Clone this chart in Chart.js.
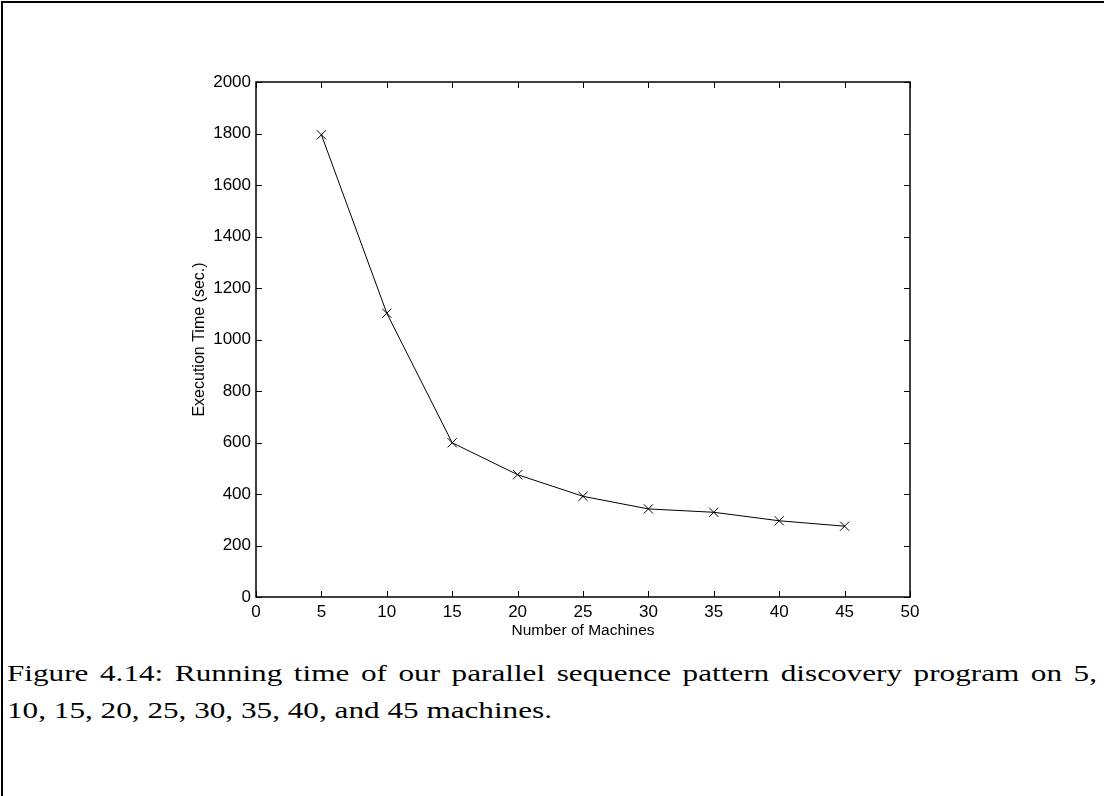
<!DOCTYPE html>
<html>
<head>
<meta charset="utf-8">
<script src="https://cdn.jsdelivr.net/npm/chart.js@4"></script>
<style>
  html, body { margin: 0; padding: 0; background: #fff; width: 1104px; height: 796px; overflow: hidden; }
  #frame { position: absolute; left: 1px; top: 1px; width: 1103px; height: 795px; border-top: 2px solid #000; border-left: 2px solid #000; box-sizing: border-box; }
  #wrap { position: absolute; left: 0; top: 0; width: 1104px; height: 650px; }
  #caption { position: absolute; left: 7px; top: 655px; font-family: "Liberation Serif", "Times New Roman", serif; font-size: 23.5px; color: #000; white-space: nowrap; }
  #caption span { display: block; transform-origin: 0 0; line-height: 37px; width: max-content; }
</style>
</head>
<body>
<div id="frame"></div>
<div id="wrap"><canvas id="c" width="1104" height="650"></canvas></div>
<div id="caption">
  <span id="l1">Figure 4.14: Running time of our parallel sequence pattern discovery program on 5,</span>
  <span id="l2">10, 15, 20, 25, 30, 35, 40, and 45 machines.</span>
</div>
<script>
// ---- data ----
const machines = [5, 10, 15, 20, 25, 30, 35, 40, 45];
const execTimes = [1795, 1102, 599, 475, 391, 342, 329, 296, 275];
const xTickValues = [0, 5, 10, 15, 20, 25, 30, 35, 40, 45, 50];
const yTickValues = [0, 200, 400, 600, 800, 1000, 1200, 1400, 1600, 1800, 2000];
const xTitle = "Number of Machines";
const yTitle = "Execution Time (sec.)";

// caption: horizontal scale from line 2, line 1 justified to full width
(function(){
  const l1 = document.getElementById('l1');
  const l2 = document.getElementById('l2');
  const w2 = l2.getBoundingClientRect().width;
  const s = 545 / w2;
  const w1 = l1.getBoundingClientRect().width;
  const spaces = (l1.textContent.match(/ /g) || []).length;
  const extra = (1090 / s - w1) / spaces;
  l1.style.wordSpacing = extra + 'px';
  l1.style.transform = 'scaleX(' + s + ')';
  l2.style.transform = 'scaleX(' + s + ')';
})();

const boxPlugin = {
  id: 'matlabBox',
  afterDraw(chart) {
    const ctx = chart.ctx;
    const a = chart.chartArea;
    const xs = chart.scales.x, ys = chart.scales.y;
    const tl = 6;
    ctx.save();
    ctx.strokeStyle = '#000';
    ctx.lineWidth = 1;
    ctx.beginPath();
    xTickValues.forEach(v => {
      const px = Math.round(xs.getPixelForValue(v)) + 0.5;
      ctx.moveTo(px, a.bottom); ctx.lineTo(px, a.bottom - tl);
      ctx.moveTo(px, a.top); ctx.lineTo(px, a.top + tl);
    });
    yTickValues.forEach(v => {
      const py = Math.round(ys.getPixelForValue(v)) + 0.5;
      ctx.moveTo(a.left, py); ctx.lineTo(a.left + tl, py);
      ctx.moveTo(a.right, py); ctx.lineTo(a.right - tl, py);
    });
    ctx.stroke();
    ctx.lineWidth = 1.5;
    ctx.strokeRect(a.left, a.top, a.right - a.left, a.bottom - a.top);
    ctx.restore();
  }
};

const sans = 'Liberation Sans, Arial, sans-serif';

new Chart(document.getElementById('c'), {
  type: 'line',
  data: {
    datasets: [{
      data: machines.map((m, i) => ({ x: m, y: execTimes[i] })),
      borderColor: '#000',
      borderWidth: 1,
      pointStyle: 'crossRot',
      pointRadius: 6.5,
      pointBorderColor: '#000',
      pointBorderWidth: 1,
      pointBackgroundColor: '#000',
      tension: 0,
      fill: false
    }]
  },
  options: {
    responsive: false,
    animation: false,
    events: [],
    layout: { padding: { left: 190, right: 194, top: 82, bottom: 10 } },
    plugins: { legend: { display: false }, tooltip: { enabled: false } },
    scales: {
      x: {
        type: 'linear', min: 0, max: 50,
        afterBuildTicks(scale) { scale.ticks = xTickValues.map(v => ({ value: v })); },
        afterFit(scale) { scale.height = 43; },
        grid: { display: false, drawTicks: false },
        border: { display: false },
        ticks: { color: '#000', padding: 5, maxRotation: 0, autoSkip: false, callback: v => String(v), font: { family: sans, size: 17 } },
        title: { display: true, text: xTitle, color: '#000', padding: 0, font: { family: sans, size: 15.5, lineHeight: 1.2 } }
      },
      y: {
        type: 'linear', min: 0, max: 2000,
        afterBuildTicks(scale) { scale.ticks = yTickValues.map(v => ({ value: v })); },
        afterFit(scale) { scale.width = 66; },
        grid: { display: false, drawTicks: false },
        border: { display: false },
        ticks: { color: '#000', padding: 5, autoSkip: false, callback: v => String(v), font: { family: sans, size: 17 } },
        title: { display: true, text: yTitle, color: '#000', padding: 0, font: { family: sans, size: 16, lineHeight: 1.2 } }
      }
    }
  },
  plugins: [boxPlugin]
});
</script>
</body>
</html>
